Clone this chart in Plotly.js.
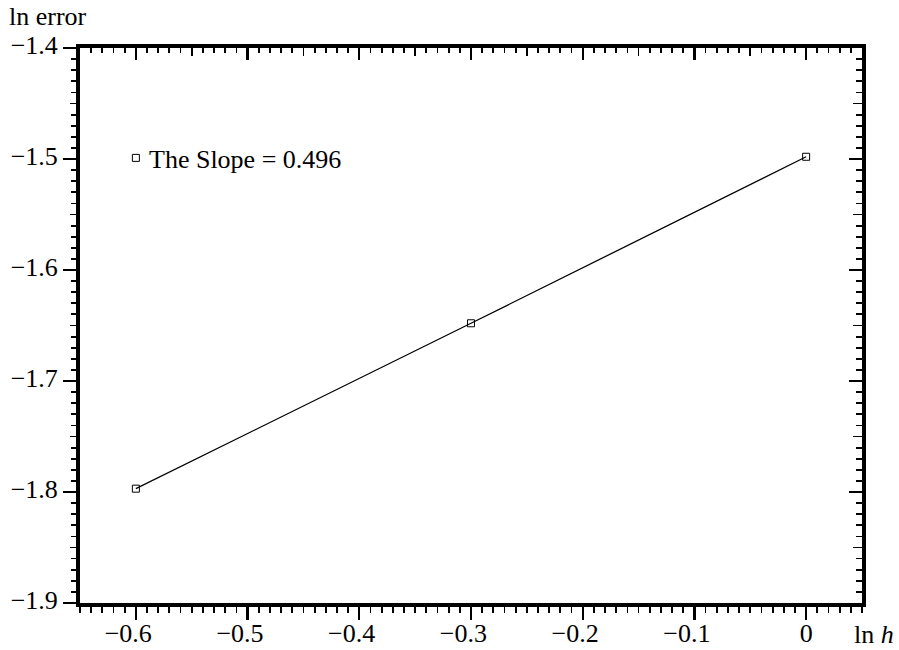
<!DOCTYPE html>
<html>
<head>
<meta charset="utf-8">
<script src="https://cdn.plot.ly/plotly-3.0.1.min.js"></script>
<style>
  html, body { margin: 0; padding: 0; background: #fff; }
  #chart { width: 899px; height: 650px; }
</style>
</head>
<body>
<div id="chart"></div>
<script>
// ---- data ----
const lnH = [-0.6, -0.3, 0];
const lnError = [-1.797, -1.648, -1.498];
const slopeLabel = 'The Slope = 0.496';
const legendMarkX = [-0.6];
const legendMarkY = [-1.499];
const xTickVals = [-0.6, -0.5, -0.4, -0.3, -0.2, -0.1, 0];
const xTickText = ['−0.6', '−0.5', '−0.4', '−0.3', '−0.2', '−0.1', '0'];
const yTickVals = [-1.9, -1.8, -1.7, -1.6, -1.5, -1.4];
const yTickText = ['−1.9', '−1.8', '−1.7', '−1.6', '−1.5', '−1.4'];
const xTitle = 'ln <i>h</i>';
const yTitle = 'ln error';

const xRange = [-0.65, 0.05];
const yRange = [-1.9, -1.4];

const FONT = 'Liberation Serif, Times New Roman, serif';
const FS = 26;

// centre the number (not the minus sign) under each x tick
const padX = xTickText.map(t => t.startsWith('−') ? t + '\u2002\u200A' : t);

const traces = [
  { x: lnH, y: lnError, type: 'scatter', mode: 'lines+markers',
    line: { color: 'black', width: 1.3 },
    marker: { symbol: 'square-open', size: 7, color: 'black', line: { width: 1, color: 'black' } },
    showlegend: false, hoverinfo: 'x+y' },
  { x: legendMarkX, y: legendMarkY, type: 'scatter', mode: 'markers',
    marker: { symbol: 'square-open', size: 7, color: 'black', line: { width: 1, color: 'black' } },
    showlegend: false, hoverinfo: 'skip' },
  // empty traces so the overlay tick axes get their subplots
  { x: [], y: [], xaxis: 'x2', yaxis: 'y', showlegend: false, hoverinfo: 'skip' },
  { x: [], y: [], xaxis: 'x3', yaxis: 'y', showlegend: false, hoverinfo: 'skip' },
  { x: [], y: [], xaxis: 'x4', yaxis: 'y', showlegend: false, hoverinfo: 'skip' },
  { x: [], y: [], xaxis: 'x', yaxis: 'y2', showlegend: false, hoverinfo: 'skip' },
  { x: [], y: [], xaxis: 'x', yaxis: 'y3', showlegend: false, hoverinfo: 'skip' },
  { x: [], y: [], xaxis: 'x', yaxis: 'y4', showlegend: false, hoverinfo: 'skip' }
];

const base = { showgrid: false, zeroline: false, linecolor: 'black', tickcolor: 'black', fixedrange: true };

const layout = {
  width: 899, height: 650,
  margin: { l: 80, r: 37, t: 48, b: 47 },
  paper_bgcolor: 'white', plot_bgcolor: 'white',
  font: { family: FONT, size: FS, color: 'black' },
  showlegend: false,
  // bottom: major + minor, labels
  xaxis: Object.assign({}, base, {
    range: xRange, anchor: 'y', side: 'bottom',
    tickmode: 'array', tickvals: xTickVals, ticktext: padX,
    ticks: 'outside', ticklen: 13, tickwidth: 2.2,
    showline: true, linewidth: 4,
    ticklabelstandoff: -9,
    tickfont: { family: FONT, size: FS, color: 'black' },
    minor: { tickmode: 'linear', tick0: 0, dtick: 0.01, ticks: 'outside', ticklen: 6, tickwidth: 1.8, tickcolor: 'black', showgrid: false }
  }),
  // bottom: medium ticks
  xaxis2: Object.assign({}, base, {
    range: xRange, anchor: 'y', overlaying: 'x', side: 'bottom',
    tickmode: 'linear', tick0: 0, dtick: 0.05, ticks: 'outside', ticklen: 9, tickwidth: 1.8,
    showticklabels: false, showline: false
  }),
  // top: major + minor inside
  xaxis3: Object.assign({}, base, {
    range: xRange, anchor: 'y', overlaying: 'x', side: 'top',
    tickmode: 'linear', tick0: 0, dtick: 0.1, ticks: 'inside', ticklen: 12, tickwidth: 2.2,
    showticklabels: false, showline: true, linewidth: 4,
    minor: { tickmode: 'linear', tick0: 0, dtick: 0.01, ticks: 'inside', ticklen: 5, tickwidth: 1.8, tickcolor: 'black', showgrid: false }
  }),
  xaxis4: Object.assign({}, base, {
    range: xRange, anchor: 'y', overlaying: 'x', side: 'top',
    tickmode: 'linear', tick0: 0, dtick: 0.05, ticks: 'inside', ticklen: 8, tickwidth: 1.8,
    showticklabels: false, showline: false
  }),
  // left: major + minor, labels
  yaxis: Object.assign({}, base, {
    range: yRange, anchor: 'x', side: 'left',
    tickmode: 'array', tickvals: yTickVals, ticktext: yTickText,
    ticks: 'outside', ticklen: 13, tickwidth: 2.2,
    showline: true, linewidth: 4,
    ticklabelshift: -3,
    tickfont: { family: FONT, size: FS, color: 'black' },
    minor: { tickmode: 'linear', tick0: 0, dtick: 0.01, ticks: 'outside', ticklen: 5, tickwidth: 1.8, tickcolor: 'black', showgrid: false }
  }),
  yaxis2: Object.assign({}, base, {
    range: yRange, anchor: 'x', overlaying: 'y', side: 'left',
    tickmode: 'linear', tick0: 0, dtick: 0.05, ticks: 'outside', ticklen: 9, tickwidth: 1.8,
    showticklabels: false, showline: false
  }),
  // right: major + minor inside
  yaxis3: Object.assign({}, base, {
    range: yRange, anchor: 'x', overlaying: 'y', side: 'right',
    tickmode: 'linear', tick0: 0, dtick: 0.1, ticks: 'inside', ticklen: 13, tickwidth: 2.2,
    showticklabels: false, showline: true, linewidth: 4,
    minor: { tickmode: 'linear', tick0: 0, dtick: 0.01, ticks: 'inside', ticklen: 6, tickwidth: 1.8, tickcolor: 'black', showgrid: false }
  }),
  yaxis4: Object.assign({}, base, {
    range: yRange, anchor: 'x', overlaying: 'y', side: 'right',
    tickmode: 'linear', tick0: 0, dtick: 0.05, ticks: 'inside', ticklen: 9, tickwidth: 1.8,
    showticklabels: false, showline: false
  }),
  annotations: [
    { text: yTitle, xref: 'paper', yref: 'paper', x: -0.0934, y: 1.056,
      xanchor: 'left', yanchor: 'middle', showarrow: false,
      font: { family: FONT, size: FS, color: 'black' } },
    { text: xTitle, xref: 'paper', yref: 'paper', x: 0.987, y: -0.056,
      xanchor: 'left', yanchor: 'middle', showarrow: false,
      font: { family: FONT, size: FS, color: 'black' } },
    { text: slopeLabel, xref: 'x', yref: 'y', x: -0.59, y: -1.5,
      xanchor: 'left', yanchor: 'middle', showarrow: false,
      font: { family: FONT, size: FS, color: 'black' } }
  ]
};

Plotly.newPlot('chart', traces, layout, { staticPlot: true, displayModeBar: false });
</script>
</body>
</html>
